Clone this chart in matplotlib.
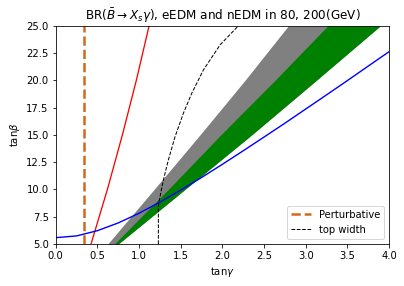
import matplotlib
matplotlib.use("Agg")
import matplotlib.pyplot as plt

# allowed bands, x edges at these tanb values
band_tanb = [5, 10, 15, 20, 25]
gray_left = [0.624, 1.18, 1.73, 2.27, 2.79]
green_left = [0.704, 1.35, 1.98, 2.63, 3.263]
green_right = [0.75, 1.55, 2.35, 3.125, 3.893]

# eEDM-like blue bound
blue_tang = [0, 0.25, 0.5, 0.75, 1.0, 1.25, 1.5, 1.75, 2.0, 2.25, 2.5, 2.75,
             3.0, 3.25, 3.5, 3.75, 4.0]
blue_tanb = [5.58, 5.74, 6.22, 6.93, 7.82, 8.84, 9.94, 11.10, 12.31, 13.55,
             14.81, 16.08, 17.38, 18.68, 19.99, 21.32, 22.64]

# red bound
red_tanb = [5, 10, 15, 20, 25]
red_tang = [0.424, 0.62, 0.80, 0.967, 1.12]

# top width contour
top_tang = [1.232, 1.232, 1.244, 1.292, 1.352, 1.432, 1.532, 1.633, 1.772,
            1.972, 2.19]
top_tanb = [5, 8.5, 9.04, 10.87, 12.71, 14.84, 16.99, 18.83, 20.96, 23.26, 25]

pert_tang = 0.345

fig = plt.figure(figsize=(404 / 72, 286 / 72), dpi=72)
ax = fig.add_axes([0.1379, 0.1469, 0.825, 0.7622])

ax.fill_betweenx(band_tanb, gray_left, green_right, color='gray', lw=0)
ax.fill_betweenx(band_tanb, green_left, green_right, color='green', lw=0)

ax.plot(red_tang, red_tanb, color='red', lw=1.3)
ax.plot(blue_tang, blue_tanb, color='blue', lw=1.4)
ax.axvline(pert_tang, color='chocolate', ls='--', lw=2.5, label='Perturbative')
ax.plot(top_tang, top_tanb, 'k--', lw=1, label='top width')

ax.set_xlim(0, 4)
ax.set_ylim(5, 25)
ax.set_xlabel(r'tan$\gamma$')
ax.set_ylabel(r'tan$\beta$')
ax.set_title(r'BR($\bar{B}\to X_s\gamma$), eEDM and nEDM in 80, 200(GeV)')
ax.legend(loc='lower right')

fig.savefig('out.png', dpi=72)
